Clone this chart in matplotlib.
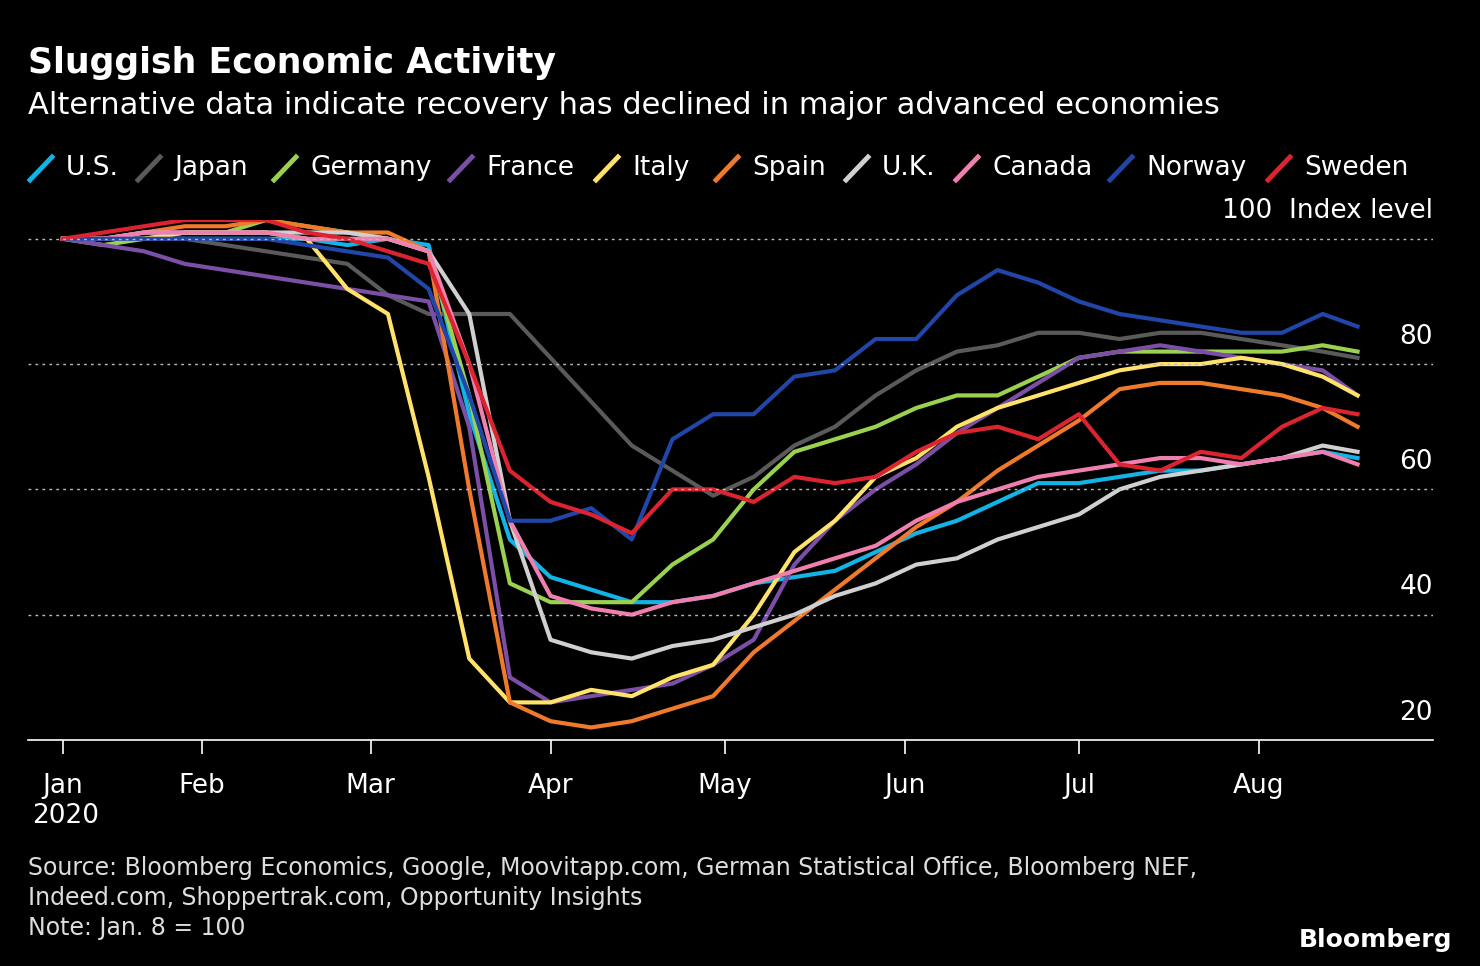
import matplotlib
matplotlib.use("Agg")
import matplotlib.pyplot as plt
from matplotlib.lines import Line2D
import datetime as dt

# weekly points from Jan 8 2020 (index base), last point Aug 18
start = dt.date(2020, 1, 8)
day_offsets = list(range(0, 224, 7)) + [223]
dates = [start + dt.timedelta(days=d) for d in day_offsets]

us      = [100,100,100,100,100,100,100,99,100,99,72,52,46,44,42,42,43,45,46,47,50,53,55,58,61,61,62,63,63,64,65,66,65]
japan   = [100,100,100,100,99,98,97,96,91,88,88,88,81,74,67,63,59,62,67,70,75,79,82,83,85,85,84,85,85,84,83,82,81]
germany = [100,99,100,101,101,103,102,101,100,98,75,45,42,42,42,48,52,60,66,68,70,73,75,75,78,81,82,82,82,82,82,83,82]
france  = [100,99,98,96,95,94,93,92,91,90,70,30,26,27,28,29,32,36,48,55,60,64,69,73,77,81,82,83,82,81,80,79,75]
italy   = [100,100,100,101,101,101,100,92,88,62,33,26,26,28,27,30,32,40,50,55,62,65,70,73,75,77,79,80,80,81,80,78,75]
spain   = [100,100,101,102,102,103,102,101,101,98,60,26,23,22,23,25,27,34,39,44,49,54,58,63,67,71,76,77,77,76,75,73,70]
uk      = [100,100,101,101,101,101,101,101,100,98,88,55,36,34,33,35,36,38,40,43,45,48,49,52,54,56,60,62,63,64,65,67,66]
canada  = [100,100,101,101,101,101,100,100,100,98,80,55,43,41,40,42,43,45,47,49,51,55,58,60,62,63,64,65,65,64,65,66,64]
norway  = [100,100,100,100,100,100,99,98,97,92,75,55,55,57,52,68,72,72,78,79,84,84,91,95,93,90,88,87,86,85,85,88,86]
sweden  = [100,101,102,103,103,103,101,100,98,96,80,63,58,56,53,60,60,58,62,61,62,66,69,70,68,72,64,63,66,65,70,73,72]

names  = ["U.S.", "Japan", "Germany", "France", "Italy", "Spain", "U.K.", "Canada", "Norway", "Sweden"]
series = [us, japan, germany, france, italy, spain, uk, canada, norway, sweden]
colors = ["#12b3e6", "#5a5a5a", "#9ad250", "#7b4fa6", "#ffe26a", "#f07a2c",
          "#d0d0d0", "#f07fb0", "#2046a8", "#dc2430"]

fig = plt.figure(figsize=(14.8, 9.66), dpi=100, facecolor="black")
ax = fig.add_axes([28/1480, 1-740/966, (1433-28)/1480, (740-220)/966])
ax.set_facecolor("black")

for vals, c in zip(series, colors):
    ax.plot(dates, vals, color=c, lw=3, solid_joinstyle="round")

ax.set_ylim(20, 103)
ax.set_xlim(start - dt.timedelta(days=6.4), start + dt.timedelta(days=236.7))
for y in [40, 60, 80, 100]:
    ax.axhline(y, color="#bbbbbb", lw=1, ls=(0, (2, 3)))
for y in [20, 40, 60, 80]:
    ax.text(1.0, y + 2.3, str(y), transform=ax.get_yaxis_transform(), ha="right",
            va="bottom", color="white", fontsize=19)
ax.text(1.0, 102.3, "100  Index level", transform=ax.get_yaxis_transform(), ha="right",
        va="bottom", color="white", fontsize=19)
ax.set_yticks([])

months = [start] + [dt.date(2020, m, 1) for m in range(2, 9)]
ax.set_xticks(months)
ax.set_xticklabels(["Jan", "Feb", "Mar", "Apr", "May", "Jun", "Jul", "Aug"])
ax.tick_params(axis="x", colors="white", labelsize=19, length=10, width=1.2, pad=14)
for s in ["top", "right", "left"]:
    ax.spines[s].set_visible(False)
ax.spines["bottom"].set_color("white")
ax.spines["bottom"].set_linewidth(1.2)

fig.text(32/1480, 1-816/966, "2020", color="white", fontsize=19, va="center")

fig.text(28/1480, 1-63/966, "Sluggish Economic Activity", color="white", fontsize=25,
         fontweight="bold", va="center")
fig.text(28/1480, 1-105/966, "Alternative data indicate recovery has declined in major advanced economies",
         color="white", fontsize=22, va="center")

# legend
leg_x = [30, 138, 274, 450, 596, 716, 846, 956, 1110, 1268]
for x0, n, c in zip(leg_x, names, colors):
    fig.add_artist(Line2D([x0/1480, (x0+22)/1480], [1-180/966, 1-157/966], color=c, lw=3.5))
    fig.text((x0+36)/1480, 1-168/966, n, color="white", fontsize=19, va="center")

fig.text(28/1480, 1-868/966, "Source: Bloomberg Economics, Google, Moovitapp.com, German Statistical Office, Bloomberg NEF,",
         color="#dddddd", fontsize=17, va="center")
fig.text(28/1480, 1-898/966, "Indeed.com, Shoppertrak.com, Opportunity Insights",
         color="#dddddd", fontsize=17, va="center")
fig.text(28/1480, 1-928/966, "Note: Jan. 8 = 100", color="#dddddd", fontsize=17, va="center")
fig.text(1452/1480, 1-940/966, "Bloomberg", color="white", fontsize=18, fontweight="bold",
         ha="right", va="center")

fig.savefig("out.png", dpi=100, facecolor="black")
